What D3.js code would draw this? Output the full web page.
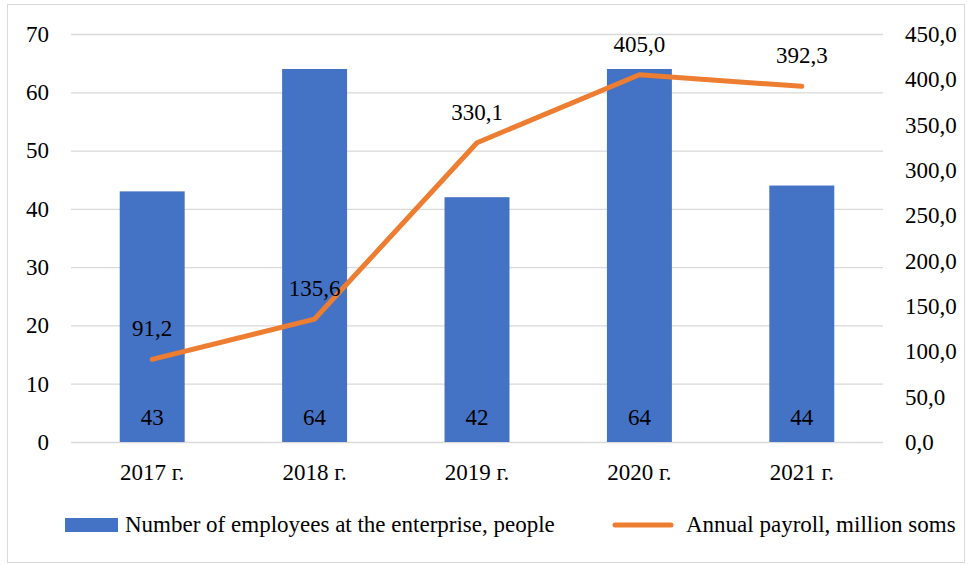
<!DOCTYPE html>
<html>
<head>
<meta charset="utf-8">
<script src="https://cdn.jsdelivr.net/npm/d3@7"></script>
<style>
  body { margin: 0; background: #fff; }
  svg { display: block; }
  svg text { font-family: "Liberation Serif", "Times New Roman", serif; }
</style>
</head>
<body>
<svg id="chart" width="972" height="565"></svg>
<script>
// chart data
const years = ["2017 г.", "2018 г.", "2019 г.", "2020 г.", "2021 г."];
const employees = [43, 64, 42, 64, 44];
const payroll = [91.2, 135.6, 330.1, 405.0, 392.3];
const leftTicks = [0, 10, 20, 30, 40, 50, 60, 70];
const rightTicks = [0, 50, 100, 150, 200, 250, 300, 350, 400, 450];
const legendLabels = ["Number of employees at the enterprise, people", "Annual payroll, million soms"];

const width = 972;
const height = 565;
const margin = { top: 34, right: 89, bottom: 123, left: 71 };
const fontSize = 23;

const svg = d3.select("#chart");

const comma = (v) => v.toFixed(1).replace(".", ",");

// outer frame
svg.append("rect")
  .attr("x", 7.5).attr("y", 4.5)
  .attr("width", 957).attr("height", 558)
  .attr("fill", "#fff")
  .attr("stroke", "#d9d9d9");

const xScale = d3.scaleBand()
  .domain(years)
  .range([margin.left, width - margin.right])
  .paddingInner(0.6)
  .paddingOuter(0.3);

const yLeft = d3.scaleLinear()
  .domain([0, 70])
  .range([height - margin.bottom, margin.top]);

const yRight = d3.scaleLinear()
  .domain([0, 450])
  .range([height - margin.bottom, margin.top]);

// gridlines
const yGrid = d3.axisLeft(yLeft)
  .tickValues(leftTicks)
  .tickSize(-(width - margin.left - margin.right))
  .tickFormat("");
svg.append("g")
  .attr("transform", `translate(${margin.left}, 0)`)
  .call(yGrid)
  .call(g => g.select(".domain").remove())
  .call(g => g.selectAll("line").attr("stroke", "#d9d9d9").attr("stroke-width", 1.3));

// bars
svg.append("g").selectAll("rect")
  .data(employees)
  .join("rect")
  .attr("x", (d, i) => xScale(years[i]))
  .attr("y", d => yLeft(d))
  .attr("width", xScale.bandwidth())
  .attr("height", d => yLeft(0) - yLeft(d))
  .attr("fill", "#4472c4");

// bar labels
svg.append("g").selectAll("text")
  .data(employees)
  .join("text")
  .attr("x", (d, i) => xScale(years[i]) + xScale.bandwidth() / 2)
  .attr("y", yLeft(0) - 17)
  .attr("text-anchor", "middle")
  .attr("font-size", fontSize)
  .attr("fill", "#000")
  .text(d => d);

// payroll line
const line = d3.line()
  .x((d, i) => xScale(years[i]) + xScale.bandwidth() / 2)
  .y(d => yRight(d));

svg.append("path")
  .attr("d", line(payroll))
  .attr("fill", "none")
  .attr("stroke", "#ed7d31")
  .attr("stroke-width", 5)
  .attr("stroke-linecap", "round")
  .attr("stroke-linejoin", "round");

// line labels
svg.append("g").selectAll("text")
  .data(payroll)
  .join("text")
  .attr("x", (d, i) => xScale(years[i]) + xScale.bandwidth() / 2)
  .attr("y", d => yRight(d) - 23)
  .attr("text-anchor", "middle")
  .attr("font-size", fontSize)
  .attr("fill", "#000")
  .text(d => comma(d));

// axes
const styleAxis = g => {
  g.select(".domain").remove();
  g.attr("font-family", null).attr("font-size", fontSize);
  g.selectAll("text").attr("fill", "#000");
};

const xAxis = d3.axisBottom(xScale).tickSize(0).tickPadding(22);
svg.append("g")
  .attr("transform", `translate(0, ${height - margin.bottom})`)
  .call(xAxis)
  .call(styleAxis);

const leftAxis = d3.axisLeft(yLeft).tickValues(leftTicks).tickSize(0).tickPadding(22);
svg.append("g")
  .attr("transform", `translate(${margin.left}, 0)`)
  .call(leftAxis)
  .call(styleAxis);

const rightAxis = d3.axisRight(yRight).tickValues(rightTicks).tickSize(0).tickPadding(22).tickFormat(comma);
svg.append("g")
  .attr("transform", `translate(${width - margin.right}, 0)`)
  .call(rightAxis)
  .call(styleAxis);

// legend
const legend = svg.append("g").attr("font-size", fontSize);
legend.append("rect")
  .attr("x", 65).attr("y", 518)
  .attr("width", 53).attr("height", 14)
  .attr("fill", "#4472c4");
legend.append("text")
  .attr("x", 125).attr("y", 532)
  .text(legendLabels[0]);
legend.append("line")
  .attr("x1", 615).attr("x2", 671)
  .attr("y1", 525).attr("y2", 525)
  .attr("stroke", "#ed7d31")
  .attr("stroke-width", 5)
  .attr("stroke-linecap", "round");
legend.append("text")
  .attr("x", 686).attr("y", 532)
  .text(legendLabels[1]);
</script>
</body>
</html>
